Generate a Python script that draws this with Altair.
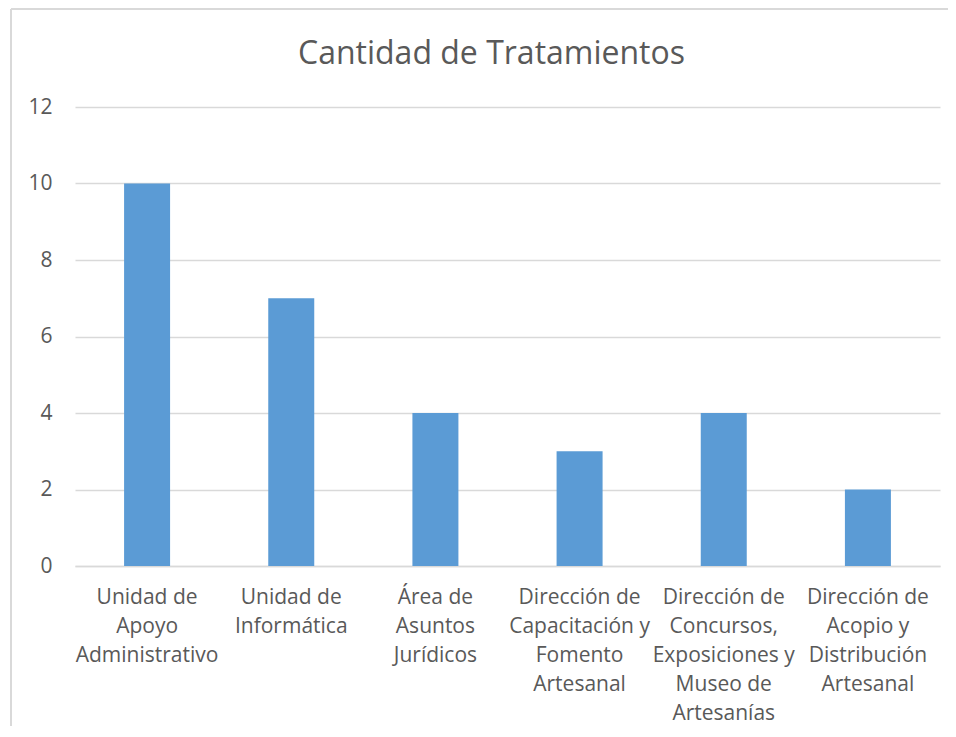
import altair as alt
import pandas as pd

categories = [
    "Unidad de|Apoyo|Administrativo",
    "Unidad de|Informática",
    "Área de|Asuntos|Jurídicos",
    "Dirección de|Capacitación y|Fomento|Artesanal",
    "Dirección de|Concursos,|Exposiciones y|Museo de|Artesanías",
    "Dirección de|Acopio y|Distribución|Artesanal",
]
values = [10, 7, 4, 3, 4, 2]
y_ticks = [0, 2, 4, 6, 8, 10, 12]

df = pd.DataFrame({"cat": categories, "val": values})

W, H = 865, 459
GRAY = "#595959"
FONT = "Open Sans"

bars = alt.Chart(df).mark_bar(size=46, color="#5b9bd5").encode(
    x=alt.X("cat:N", sort=None, title=None,
            axis=alt.Axis(labelExpr="split(datum.label, '|')", labelAngle=0,
                          labelFontSize=21, labelColor=GRAY, labelFont=FONT,
                          labelLineHeight=29, labelPadding=20, labelLimit=0,
                          ticks=False, domainColor="#d9d9d9", domainWidth=1.5,
                          labelBaseline="top")),
    y=alt.Y("val:Q", title=None, scale=alt.Scale(domain=[0, 12], nice=False),
            axis=alt.Axis(values=y_ticks, labelFontSize=21, labelColor=GRAY,
                          labelFont=FONT, labelPadding=23, ticks=False, domain=False,
                          gridColor="#d9d9d9", gridWidth=1.3)),
)

frame_left = alt.Chart(df).mark_rule(color="#d9d9d9", strokeWidth=1.5).encode(
    x=alt.value(-64), y=alt.value(-98), y2=alt.value(H + 200))
frame_top = alt.Chart(df).mark_rule(color="#d9d9d9", strokeWidth=1.5).encode(
    x=alt.value(-64), x2=alt.value(W + 8), y=alt.value(-98))

chart = alt.layer(frame_left, frame_top, bars).properties(
    width=W, height=H,
    title=alt.TitleParams("Cantidad de Tratamientos", fontSize=32, font=FONT,
                          fontWeight="normal", color=GRAY, anchor="middle",
                          dx=-16, offset=-63),
    autosize=alt.AutoSizeParams(type="none"),
    padding={"left": 67, "top": 99, "right": 8, "bottom": 160},
).configure_view(stroke=None)

chart.save("out.html", embed_options={"renderer": "svg", "actions": False})
